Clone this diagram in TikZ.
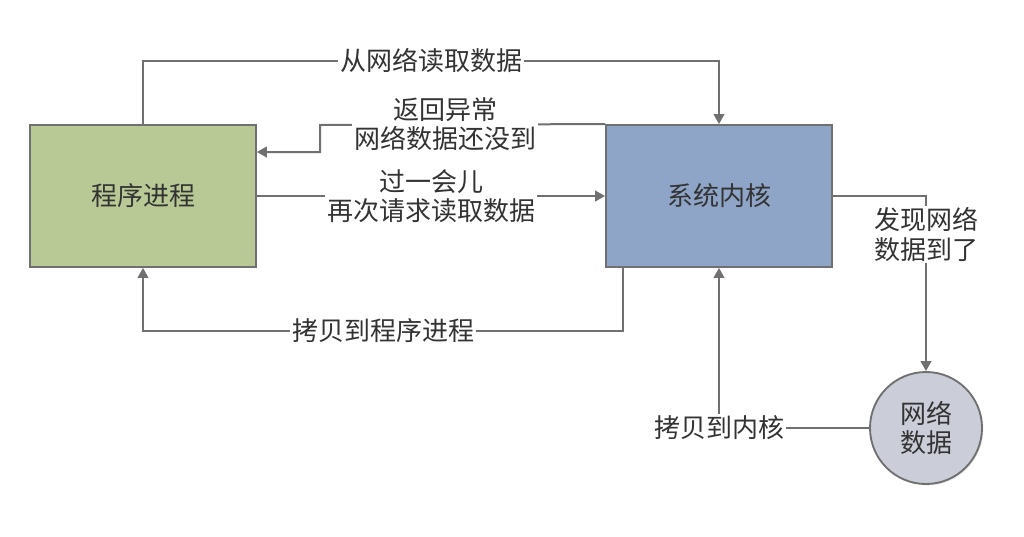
\documentclass[tikz,border=0pt]{standalone}
\usepackage{fontspec}
\setmainfont{Noto Sans CJK SC}
\usetikzlibrary{arrows.meta,shadows}
\definecolor{linegray}{HTML}{707070}
\definecolor{txtgray}{HTML}{333333}
\definecolor{boxgreen}{HTML}{B9C996}
\definecolor{boxblue}{HTML}{8FA5C8}
\definecolor{circgray}{HTML}{CBCED8}
\begin{document}
\begin{tikzpicture}[x=0.75pt,y=-0.75pt,
  every node/.style={text=txtgray,font=\fontsize{19.5}{22}\selectfont},
  box/.style={draw=linegray,line width=1.4pt,minimum width=169.5pt,minimum height=106.5pt,
    drop shadow={opacity=0.2,shadow xshift=1pt,shadow yshift=-1pt}},
  circ/.style={circle,draw=linegray,line width=1.4pt,fill=circgray,minimum size=84pt,align=center,
    inner sep=0pt,drop shadow={opacity=0.2,shadow xshift=1pt,shadow yshift=-1pt}},
  arr/.style={draw=linegray,line width=1.5pt,-{Triangle[length=7.5pt,width=8pt]}},
  lab/.style={fill=white,inner sep=1.5pt,align=center}]
\useasboundingbox (0,0) rectangle (1024,536);

\node[box,fill=boxgreen] (p) at (143,196) {程序进程};
\node[box,fill=boxblue] (k) at (719,196) {系统内核};
\node[circ] (n) at (926,428) {网络\\数据};

% top: read data from network
\draw[arr] (p.north) |- node[lab,pos=0.75] (l1) {从网络读取数据} (k.north |- 0,61) -- (k.north);

% return exception
\draw[arr] (k.north west) -- (320,125) |- (p.east |- 0,152);
\node[lab] (l2) at (445,124) {返回异常\\网络数据还没到};

% request again
\draw[arr] (p.east) -- node[lab] (l3) {过一会儿\\再次请求读取数据} (k.west);

% copy to process
\draw[arr] ([xshift=13.5pt]k.south west) -- ++(0,63) -| node[lab,pos=0.25] (l4) {拷贝到程序进程} (p.south);

% network data arrives
\draw[arr] (k.east) -| node[lab,pos=0.61] (l5) {发现网络\\数据到了} (n.north);

% copy to kernel
\draw[arr] (n.west) -| node[lab,pos=0.5] (l6) {拷贝到内核} (k.south);
\end{tikzpicture}
\end{document}
